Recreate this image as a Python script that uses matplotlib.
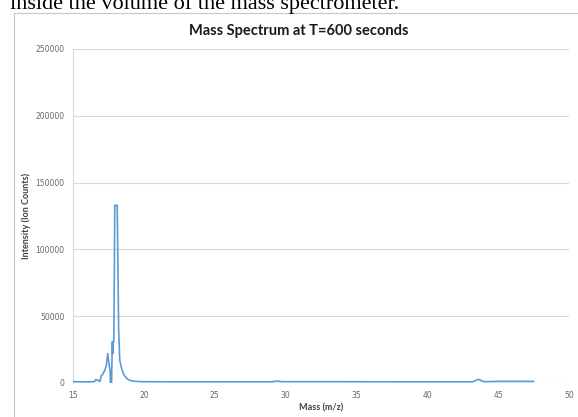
import matplotlib.pyplot as plt
from matplotlib.lines import Line2D

# spectrum
mass = [15.0, 16.0, 16.5, 16.6, 16.75, 16.9, 17.0, 17.1, 17.25, 17.35, 17.45,
        17.55, 17.62, 17.64, 17.72, 17.76, 17.78, 17.8, 17.84, 17.88, 17.95,
        18.12, 18.22, 18.3, 18.45, 18.6, 18.8, 19.0, 19.3, 19.8, 22.0, 25.0,
        29.0, 29.4, 29.8, 33.0, 38.0, 43.2, 43.6, 44.0, 45.0, 47.5]
intensity = [1000, 800, 1000, 2500, 2000, 1200, 5500, 6500, 9700, 13000, 22000,
             14000, 9000, 0, 0, 22000, 31000, 22000, 31000, 31000, 133000,
             133000, 40000, 17000, 10000, 6000, 3300, 2000, 1300, 1000, 900, 900,
             900, 1400, 1000, 1000, 900, 900, 2800, 1000, 1200, 1200]

x_ticks = [15, 20, 25, 30, 35, 40, 45, 50]
y_ticks = [0, 50000, 100000, 150000, 200000, 250000]

fig = plt.figure(figsize=(5.78, 4.17), dpi=100)

# cut-off line of document text above the chart
fig.text(10 / 578, 1 - 9.5 / 417, "inside the volume of the mass spectrometer.",
         family="Liberation Serif", fontsize=16, va="baseline", ha="left")

# chart area border (only left and top edges visible)
fig.add_artist(Line2D([14.3 / 578, 14.3 / 578], [0, 1 - 12.5 / 417],
                      color="#c8c8c8", lw=0.8))
fig.add_artist(Line2D([14.3 / 578, 1], [1 - 12.5 / 417, 1 - 12.5 / 417],
                      color="#c8c8c8", lw=0.8))

ax = fig.add_axes([73 / 578, 34 / 417, 496 / 578, 334 / 417])
ax.plot(mass, intensity, color="#5B9BD5", lw=1.2, zorder=3)

ax.set_xlim(15, 50)
ax.set_ylim(0, 250000)
ax.set_xticks(x_ticks)
ax.set_yticks(y_ticks)
ax.grid(axis="y", color="#d9d9d9", lw=0.8)
ax.set_axisbelow(True)
for side in ["top", "right", "bottom"]:
    ax.spines[side].set_visible(False)
ax.spines["left"].set_color("#d9d9d9")
ax.tick_params(length=0, labelsize=5.5, labelcolor="#666666", pad=6)

ax.set_xlabel("Mass (m/z)", family="Lato", fontweight="bold", fontsize=6.5,
              color="#404040", labelpad=2)
ax.set_ylabel("Intensity (Ion Counts)", family="Lato", fontweight="bold",
              fontsize=6.5, color="#404040", labelpad=3)

fig.text(299 / 578, 1 - 34.7 / 417, "Mass Spectrum at T=600 seconds",
         family="Lato", fontweight="bold", fontsize=10.5, ha="center",
         va="baseline", color="#1a1a1a")

fig.savefig("out.png", dpi=100)
